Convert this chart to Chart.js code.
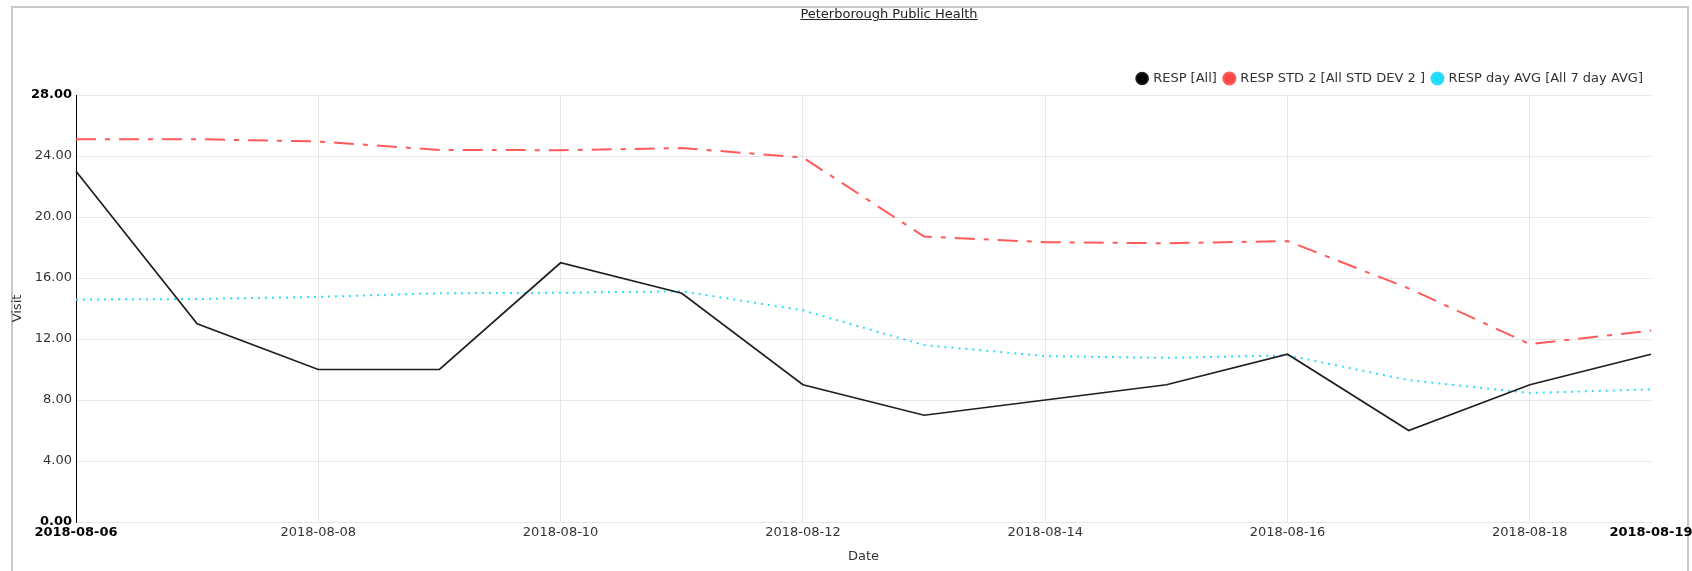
<!DOCTYPE html>
<html>
<head>
<meta charset="utf-8">
<script src="https://cdn.jsdelivr.net/npm/chart.js@4.4.0/dist/chart.umd.min.js"></script>
<style>
    body { margin: 0; width: 1692px; height: 571px; overflow: hidden; background: #fff; font-family: "DejaVu Sans", sans-serif; }
    #frame { position: absolute; left: 11px; top: 6px; width: 1678px; height: 600px; border: 2px solid #c8c8c8; box-sizing: border-box; }
    #title { position: absolute; left: 889px; top: 6px; transform: translateX(-50%); font-size: 13px; line-height: 15px; color: #222; text-decoration: underline; white-space: nowrap; }
    #chartContainer { position: absolute; left: 0; top: 0; }
</style>
</head>
<body>
<div id="frame"></div>
<canvas id="chartContainer" width="1692" height="571"></canvas>
<div id="title">Peterborough Public Health</div>
<script>
const dates = ['2018-08-06', '2018-08-07', '2018-08-08', '2018-08-09', '2018-08-10', '2018-08-11', '2018-08-12',
    '2018-08-13', '2018-08-14', '2018-08-15', '2018-08-16', '2018-08-17', '2018-08-18', '2018-08-19'];
const respAll = [23, 13, 10, 10, 17, 15, 9, 7, 8, 9, 11, 6, 9, 11];
const respStd2 = [25.1, 25.1, 24.95, 24.4, 24.38, 24.52, 23.9, 18.72, 18.35, 18.28, 18.42, 15.32, 11.66, 12.55];
const respAvg7 = [14.59, 14.62, 14.76, 15.0, 15.03, 15.13, 13.88, 11.6, 10.88, 10.76, 10.93, 9.3, 8.46, 8.7];
const yMin = 0;
const yMax = 28;
const yStep = 4;

const last = dates.length - 1;
const fontFamily = '"DejaVu Sans", sans-serif';
const gridColor = '#e6e6e6';

// first and last tick on each axis are drawn bold
function isEndX(c) {
    return c && (c.index === 0 || c.index === last);
}
function isEndY(c) {
    return c && c.tick && (c.tick.value === yMin || c.tick.value === yMax);
}

const ctx = document.getElementById('chartContainer').getContext('2d');

const chart = new Chart(ctx, {
    type: 'line',
    data: {
        labels: dates,
        datasets: [{
            label: 'RESP [All]',
            data: respAll,
            borderColor: '#1e1e1e',
            backgroundColor: '#000000',
            borderWidth: 1.7,
            pointRadius: 0,
            tension: 0
        }, {
            label: 'RESP STD 2 [All STD DEV 2 ]',
            data: respStd2,
            borderColor: '#ff5a5a',
            backgroundColor: '#ff4747',
            borderWidth: 2,
            borderDash: [20, 9, 5, 9],
            pointRadius: 0,
            tension: 0
        }, {
            label: 'RESP day AVG [All 7 day AVG]',
            data: respAvg7,
            borderColor: '#2fdcff',
            backgroundColor: '#1fdcfb',
            borderWidth: 2,
            borderDash: [2, 5],
            pointRadius: 0,
            tension: 0
        }]
    },
    options: {
        responsive: false,
        devicePixelRatio: 1,
        animation: false,
        layout: {
            padding: { top: 64, right: 41, bottom: 0, left: 0 }
        },
        plugins: {
            title: { display: false },
            tooltip: { enabled: false },
            legend: {
                position: 'top',
                align: 'end',
                labels: {
                    usePointStyle: true,
                    pointStyle: 'circle',
                    boxWidth: 9,
                    boxHeight: 8.5,
                    padding: 8,
                    color: '#333',
                    font: { family: fontFamily, size: 13 }
                }
            }
        },
        scales: {
            x: {
                offset: false,
                afterFit: scale => {
                    scale.height = 49;
                    // let the last label run past the plot edge like the original
                    scale.paddingRight = 0;
                },
                border: { display: true, color: gridColor, width: 1 },
                grid: {
                    drawTicks: false,
                    color: c => (c.index > 0 && c.index < last && c.index % 2 === 0) ? gridColor : 'rgba(0,0,0,0)'
                },
                ticks: {
                    autoSkip: false,
                    maxRotation: 0,
                    padding: 3,
                    callback: (v, i) => (i % 2 === 0 || i === last) ? dates[i] : '',
                    color: c => isEndX(c) ? '#000' : '#333',
                    font: c => ({ family: fontFamily, size: 13, weight: isEndX(c) ? 'bold' : 'normal' })
                },
                title: {
                    display: true,
                    text: 'Date',
                    color: '#333',
                    font: { family: fontFamily, size: 13 },
                    padding: { top: 0, bottom: 7 }
                }
            },
            y: {
                min: yMin,
                max: yMax,
                afterFit: scale => { scale.width = 76; },
                border: { display: true, color: '#000', width: 1 },
                grid: { drawTicks: false, color: gridColor },
                ticks: {
                    stepSize: yStep,
                    padding: 4,
                    callback: v => v.toFixed(2),
                    color: c => isEndY(c) ? '#000' : '#333',
                    font: c => ({ family: fontFamily, size: 13, weight: isEndY(c) ? 'bold' : 'normal' })
                },
                title: {
                    display: true,
                    text: 'Visit',
                    color: '#333',
                    font: { family: fontFamily, size: 13 },
                    padding: { top: 10, bottom: 0 }
                }
            }
        }
    }
});
</script>
</body>
</html>
